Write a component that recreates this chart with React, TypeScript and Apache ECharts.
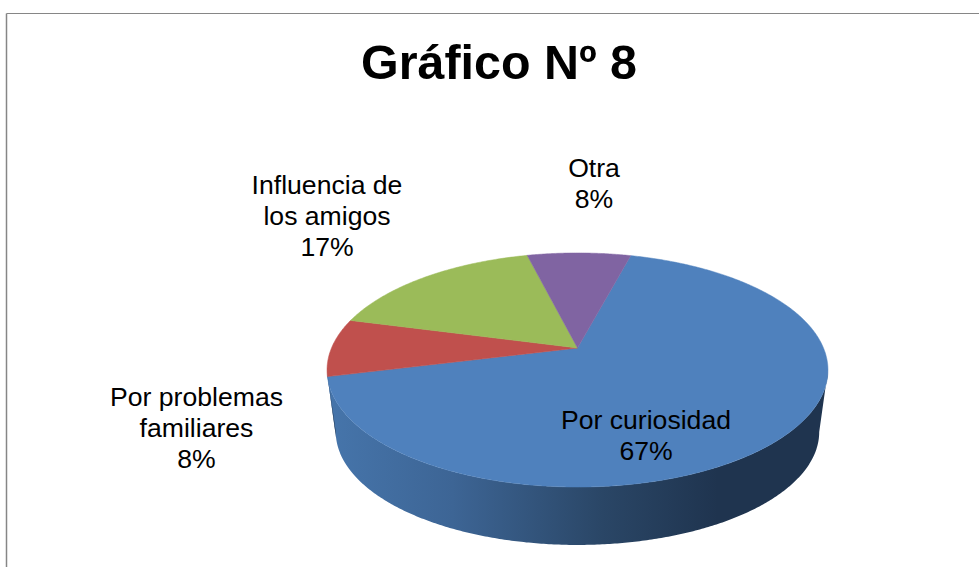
import React, { useEffect, useRef } from "react";
import * as echarts from "echarts";

const titleText = "Gráfico Nº 8";
const categories = ["Por curiosidad", "Por problemas\nfamiliares", "Influencia de\nlos amigos", "Otra"];
const percents = [67, 8, 17, 8];
const sliceColors = ["#4F81BD", "#C0504D", "#9BBB59", "#8064A2"];
const labelAnchors = [
  [646, 435],
  [196.5, 428],
  [327, 215.5],
  [594, 183],
];

const W = 979;
const H = 567;
const FONT = '"Liberation Sans", Arial, sans-serif';

// Pie geometry: a circle seen in perspective, so the hub sits above the ellipse centre.
const HUB_X = 577.5;
const HUB_Y = 348;
const A = 246;
const B = 112.9;
const P = 0.188;
const START_DEG = 14.8;
const ELLIPSE_CY = 370;
const BASE_CY = 432;
const BASE_SCALE = 0.965;
const FRONT_FROM = 100.8;
const FRONT_TO = 259.2;

function topPoint(deg: number): number[] {
  const t = (deg * Math.PI) / 180;
  const u = Math.sin(t);
  const v = Math.cos(t);
  const w = 1 + P * v;
  return [HUB_X + (A * u) / w, HUB_Y - (B * v) / w];
}

function basePoint(deg: number): number[] {
  const p = topPoint(deg);
  return [HUB_X + BASE_SCALE * (p[0] - HUB_X), BASE_CY + BASE_SCALE * (p[1] - ELLIPSE_CY)];
}

function arc(from: number, to: number, fn: (d: number) => number[]): number[][] {
  const n = Math.max(2, Math.ceil(Math.abs(to - from) * 2));
  const pts: number[][] = [];
  for (let i = 0; i <= n; i++) pts.push(fn(from + ((to - from) * i) / n));
  return pts;
}

function renderSlice(params: any, api: any) {
  const i = params.dataIndex;
  const total = percents.reduce((a, b) => a + b, 0);
  const before = percents.slice(0, i).reduce((a, b) => a + b, 0);
  const from = START_DEG + (before / total) * 360;
  const to = from + (Number(api.value(0)) / total) * 360;
  const children: any[] = [];

  const wallFrom = Math.max(from, FRONT_FROM);
  const wallTo = Math.min(to, FRONT_TO);
  if (wallTo > wallFrom) {
    const points = [...arc(wallFrom, wallTo, topPoint), ...arc(wallTo, wallFrom, basePoint)];
    children.push({
      type: "polygon",
      shape: { points },
      style: {
        fill: new echarts.graphic.LinearGradient(0, 0, 1, 0, [
          { offset: 0, color: "#4675AB" },
          { offset: 0.25, color: "#3D6595" },
          { offset: 0.55, color: "#2A4666" },
          { offset: 0.78, color: "#1F344F" },
          { offset: 1, color: "#1F344F" },
        ]),
      },
    });
  }

  const fill = sliceColors[i];
  children.push({
    type: "polygon",
    shape: { points: [[HUB_X, HUB_Y], ...arc(from, to, topPoint)] },
    style: { fill, stroke: fill, lineWidth: 0.5 },
  });

  children.push({
    type: "text",
    x: labelAnchors[i][0],
    y: labelAnchors[i][1],
    style: {
      text: `${categories[i]}\n${api.value(0)}%`,
      font: `26.6px ${FONT}`,
      fill: "#000000",
      align: "center",
      verticalAlign: "middle",
      lineHeight: 31,
    },
  });

  return { type: "group", children };
}

export default function App() {
  const ref = useRef<HTMLDivElement>(null);
  useEffect(() => {
    if (!ref.current) return;
    const chart = echarts.init(ref.current, undefined, { renderer: "svg" });
    chart.setOption({
      animation: false,
      backgroundColor: "#FFFFFF",
      title: {
        text: titleText,
        left: 494,
        top: 33,
        textAlign: "center",
        textStyle: { fontFamily: FONT, fontSize: 48.4, fontWeight: "bold", color: "#000000" },
      },
      graphic: [
        {
          type: "line",
          silent: true,
          shape: { x1: 6.5, y1: 13.5, x2: W, y2: 13.5 },
          style: { stroke: "#868686", lineWidth: 1 },
        },
        {
          type: "line",
          silent: true,
          shape: { x1: 6.5, y1: 13.5, x2: 6.5, y2: H },
          style: { stroke: "#868686", lineWidth: 1.5 },
        },
      ],
      series: [
        {
          type: "custom",
          coordinateSystem: "none",
          silent: true,
          renderItem: renderSlice,
          data: percents.map((value, i) => ({ name: categories[i], value })),
        },
      ],
    });
    return () => chart.dispose();
  }, []);
  return <div ref={ref} style={{ position: "fixed", left: 0, top: 0, width: W, height: H }} />;
}
